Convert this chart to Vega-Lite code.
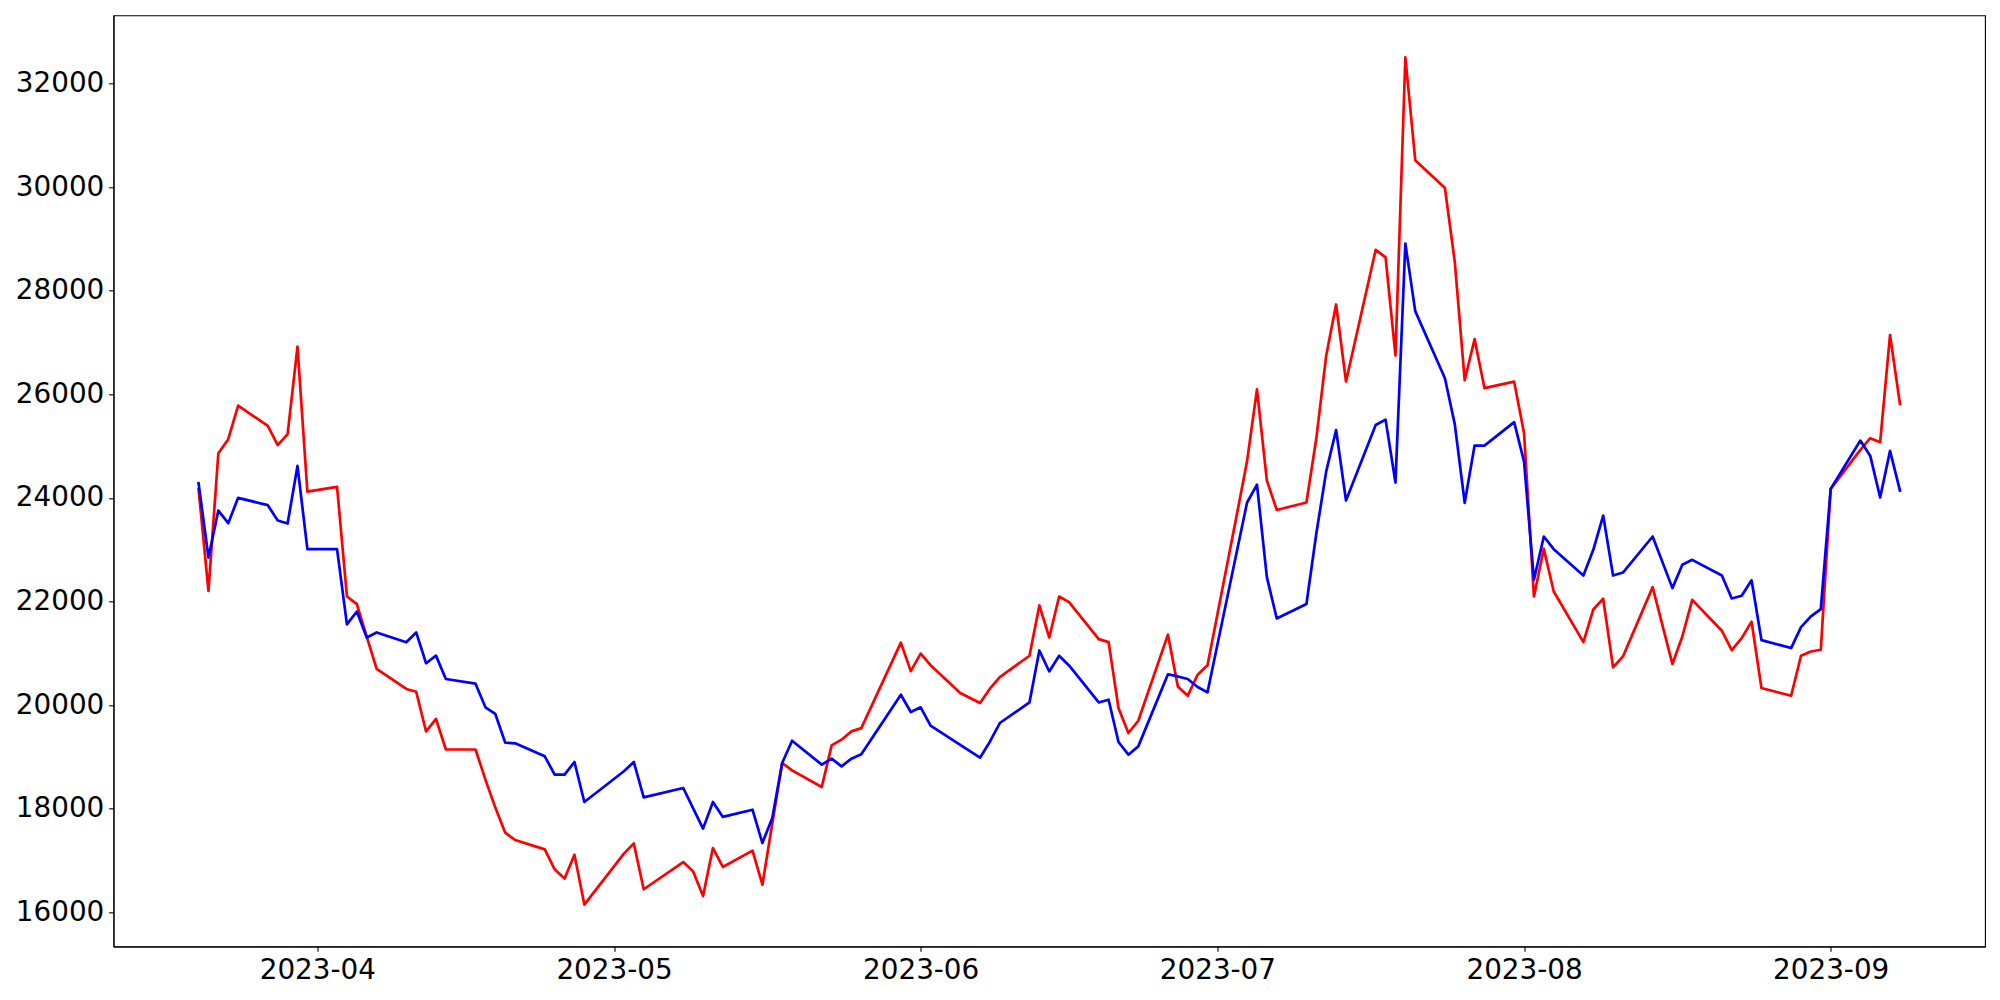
{
  "$schema": "https://vega.github.io/schema/vega-lite/v6.json",
  "autosize": "none",
  "padding": {"left": 113.5, "top": 15.3, "right": 15, "bottom": 53.5},
  "width": 1871.5,
  "height": 931.2,
  "background": "white",
  "config": {
    "view": {"stroke": "black", "strokeWidth": 1.1},
    "axis": {
      "grid": false,
      "domainColor": "black",
      "domainWidth": 1.1,
      "tickColor": "black",
      "tickWidth": 1.1,
      "tickSize": 4.86,
      "labelPadding": 4.86,
      "labelFont": "DejaVu Sans",
      "labelFontSize": 27.8,
      "labelColor": "black",
      "title": null
    }
  },
  "data": {
    "values": [
      {"date": "2023-03-20", "s1": 24168, "s2": 24284},
      {"date": "2023-03-21", "s1": 22206, "s2": 22848},
      {"date": "2023-03-22", "s1": 24862, "s2": 23755},
      {"date": "2023-03-23", "s1": 25132, "s2": 23512},
      {"date": "2023-03-24", "s1": 25780, "s2": 24000},
      {"date": "2023-03-27", "s1": 25389, "s2": 23859},
      {"date": "2023-03-28", "s1": 25017, "s2": 23562},
      {"date": "2023-03-29", "s1": 25229, "s2": 23504},
      {"date": "2023-03-30", "s1": 26919, "s2": 24617},
      {"date": "2023-03-31", "s1": 24122, "s2": 23010},
      {"date": "2023-04-03", "s1": 24212, "s2": 23010},
      {"date": "2023-04-04", "s1": 22096, "s2": 21557},
      {"date": "2023-04-05", "s1": 21950, "s2": 21807},
      {"date": "2023-04-06", "s1": 21320, "s2": 21305},
      {"date": "2023-04-07", "s1": 20700, "s2": 21402},
      {"date": "2023-04-10", "s1": 20312, "s2": 21212},
      {"date": "2023-04-11", "s1": 20257, "s2": 21402},
      {"date": "2023-04-12", "s1": 19490, "s2": 20808},
      {"date": "2023-04-13", "s1": 19735, "s2": 20955},
      {"date": "2023-04-14", "s1": 19143, "s2": 20503},
      {"date": "2023-04-17", "s1": 19143, "s2": 20413},
      {"date": "2023-04-18", "s1": 18560, "s2": 19957},
      {"date": "2023-04-19", "s1": 18021, "s2": 19829},
      {"date": "2023-04-20", "s1": 17538, "s2": 19275},
      {"date": "2023-04-21", "s1": 17395, "s2": 19262},
      {"date": "2023-04-24", "s1": 17215, "s2": 19011},
      {"date": "2023-04-25", "s1": 16830, "s2": 18658},
      {"date": "2023-04-26", "s1": 16650, "s2": 18658},
      {"date": "2023-04-27", "s1": 17113, "s2": 18902},
      {"date": "2023-04-28", "s1": 16149, "s2": 18130},
      {"date": "2023-05-02", "s1": 17133, "s2": 18722},
      {"date": "2023-05-03", "s1": 17330, "s2": 18902},
      {"date": "2023-05-04", "s1": 16445, "s2": 18219},
      {"date": "2023-05-08", "s1": 16970, "s2": 18400},
      {"date": "2023-05-09", "s1": 16790, "s2": 18007},
      {"date": "2023-05-10", "s1": 16315, "s2": 17615},
      {"date": "2023-05-11", "s1": 17241, "s2": 18130},
      {"date": "2023-05-12", "s1": 16875, "s2": 17841},
      {"date": "2023-05-15", "s1": 17190, "s2": 17980},
      {"date": "2023-05-16", "s1": 16533, "s2": 17337},
      {"date": "2023-05-17", "s1": 17714, "s2": 17822},
      {"date": "2023-05-18", "s1": 18882, "s2": 18882},
      {"date": "2023-05-19", "s1": 18740, "s2": 19313},
      {"date": "2023-05-22", "s1": 18419, "s2": 18850},
      {"date": "2023-05-23", "s1": 19222, "s2": 18966},
      {"date": "2023-05-24", "s1": 19332, "s2": 18818},
      {"date": "2023-05-25", "s1": 19492, "s2": 18966},
      {"date": "2023-05-26", "s1": 19555, "s2": 19049},
      {"date": "2023-05-30", "s1": 21205, "s2": 20200},
      {"date": "2023-05-31", "s1": 20655, "s2": 19866},
      {"date": "2023-06-01", "s1": 20995, "s2": 19957},
      {"date": "2023-06-02", "s1": 20770, "s2": 19602},
      {"date": "2023-06-05", "s1": 20233, "s2": 19230},
      {"date": "2023-06-07", "s1": 20040, "s2": 18985},
      {"date": "2023-06-08", "s1": 20316, "s2": 19293},
      {"date": "2023-06-09", "s1": 20541, "s2": 19654},
      {"date": "2023-06-12", "s1": 20952, "s2": 20051},
      {"date": "2023-06-13", "s1": 21923, "s2": 21054},
      {"date": "2023-06-14", "s1": 21305, "s2": 20649},
      {"date": "2023-06-15", "s1": 22096, "s2": 20952},
      {"date": "2023-06-16", "s1": 21988, "s2": 20765},
      {"date": "2023-06-19", "s1": 21274, "s2": 20051},
      {"date": "2023-06-20", "s1": 21216, "s2": 20103},
      {"date": "2023-06-21", "s1": 19943, "s2": 19287},
      {"date": "2023-06-22", "s1": 19461, "s2": 19043},
      {"date": "2023-06-23", "s1": 19698, "s2": 19203},
      {"date": "2023-06-26", "s1": 21360, "s2": 20595},
      {"date": "2023-06-27", "s1": 20360, "s2": 20553},
      {"date": "2023-06-28", "s1": 20181, "s2": 20503},
      {"date": "2023-06-29", "s1": 20586, "s2": 20348},
      {"date": "2023-06-30", "s1": 20767, "s2": 20246},
      {"date": "2023-07-03", "s1": 23711, "s2": 22997},
      {"date": "2023-07-04", "s1": 24710, "s2": 23911},
      {"date": "2023-07-05", "s1": 26093, "s2": 24255},
      {"date": "2023-07-06", "s1": 24334, "s2": 22470},
      {"date": "2023-07-07", "s1": 23767, "s2": 21672},
      {"date": "2023-07-10", "s1": 23911, "s2": 21951},
      {"date": "2023-07-11", "s1": 25150, "s2": 23311},
      {"date": "2023-07-12", "s1": 26749, "s2": 24511},
      {"date": "2023-07-13", "s1": 27733, "s2": 25310},
      {"date": "2023-07-14", "s1": 26246, "s2": 23950},
      {"date": "2023-07-17", "s1": 28787, "s2": 25406},
      {"date": "2023-07-18", "s1": 28643, "s2": 25510},
      {"date": "2023-07-19", "s1": 26749, "s2": 24295},
      {"date": "2023-07-20", "s1": 32503, "s2": 28909},
      {"date": "2023-07-21", "s1": 30518, "s2": 27605},
      {"date": "2023-07-24", "s1": 29983, "s2": 26309},
      {"date": "2023-07-25", "s1": 28550, "s2": 25418},
      {"date": "2023-07-26", "s1": 26270, "s2": 23905},
      {"date": "2023-07-27", "s1": 27065, "s2": 25009},
      {"date": "2023-07-28", "s1": 26118, "s2": 25009},
      {"date": "2023-07-31", "s1": 26243, "s2": 25461},
      {"date": "2023-08-01", "s1": 25248, "s2": 24700},
      {"date": "2023-08-02", "s1": 22096, "s2": 22418},
      {"date": "2023-08-03", "s1": 23016, "s2": 23254},
      {"date": "2023-08-04", "s1": 22193, "s2": 23010},
      {"date": "2023-08-07", "s1": 21216, "s2": 22501},
      {"date": "2023-08-08", "s1": 21845, "s2": 22997},
      {"date": "2023-08-09", "s1": 22052, "s2": 23659},
      {"date": "2023-08-10", "s1": 20727, "s2": 22501},
      {"date": "2023-08-11", "s1": 20939, "s2": 22559},
      {"date": "2023-08-14", "s1": 22277, "s2": 23254},
      {"date": "2023-08-16", "s1": 20792, "s2": 22258},
      {"date": "2023-08-17", "s1": 21324, "s2": 22708},
      {"date": "2023-08-18", "s1": 22032, "s2": 22804},
      {"date": "2023-08-21", "s1": 21434, "s2": 22501},
      {"date": "2023-08-22", "s1": 21060, "s2": 22058},
      {"date": "2023-08-23", "s1": 21292, "s2": 22110},
      {"date": "2023-08-24", "s1": 21608, "s2": 22408},
      {"date": "2023-08-25", "s1": 20329, "s2": 21255},
      {"date": "2023-08-28", "s1": 20181, "s2": 21101},
      {"date": "2023-08-29", "s1": 20952, "s2": 21506},
      {"date": "2023-08-30", "s1": 21035, "s2": 21711},
      {"date": "2023-08-31", "s1": 21068, "s2": 21853},
      {"date": "2023-09-01", "s1": 24174, "s2": 24174},
      {"date": "2023-09-04", "s1": 24926, "s2": 25106},
      {"date": "2023-09-05", "s1": 25152, "s2": 24810},
      {"date": "2023-09-06", "s1": 25074, "s2": 24006},
      {"date": "2023-09-07", "s1": 27144, "s2": 24907},
      {"date": "2023-09-08", "s1": 25813, "s2": 24141}
    ]
  },
  "encoding": {
    "x": {
      "field": "date",
      "type": "temporal",
      "scale": {
        "type": "utc",
        "domain": ["2023-03-11T09:36:00Z", "2023-09-16T14:24:00Z"]
      },
      "axis": {
        "format": "%Y-%m",
        "tickCount": {"interval": "month", "step": 1},
        "labelFlush": false,
        "labelOverlap": false
      }
    }
  },
  "layer": [
    {
      "mark": {"type": "line", "color": "#ff0000", "strokeWidth": 2.7, "strokeJoin": "round", "strokeCap": "square", "clip": true},
      "encoding": {
        "y": {
          "field": "s1",
          "type": "quantitative",
          "scale": {"domain": [15340, 33315], "nice": false, "zero": false},
          "axis": {"values": [16000, 18000, 20000, 22000, 24000, 26000, 28000, 30000, 32000], "format": "d"}
        }
      }
    },
    {
      "mark": {"type": "line", "color": "#0000ff", "strokeWidth": 2.7, "strokeJoin": "round", "strokeCap": "square", "clip": true},
      "encoding": {
        "y": {"field": "s2", "type": "quantitative"}
      }
    }
  ]
}
